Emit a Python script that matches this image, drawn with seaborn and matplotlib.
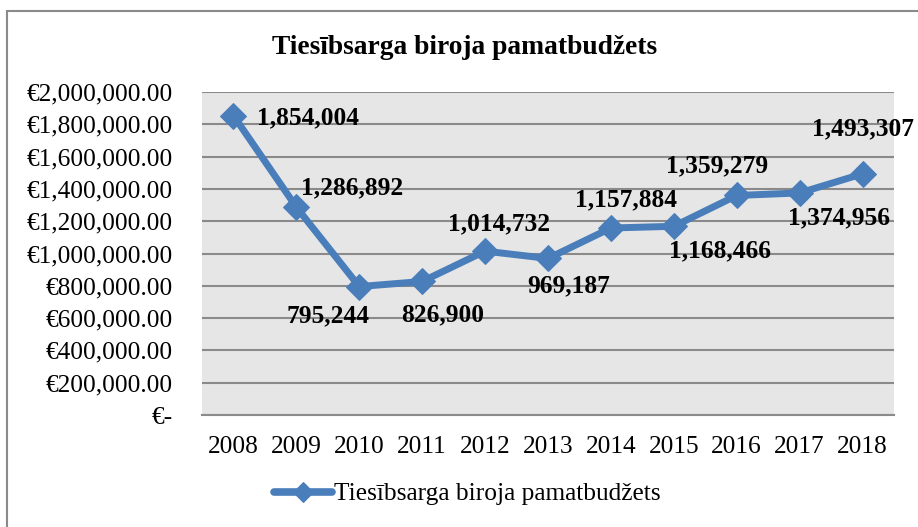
import matplotlib
matplotlib.use("Agg")
import matplotlib.pyplot as plt
from matplotlib.patches import Rectangle
from matplotlib.ticker import FuncFormatter, MultipleLocator
import seaborn as sns
import pandas as pd

# data
years = ["2008", "2009", "2010", "2011", "2012", "2013", "2014", "2015", "2016", "2017", "2018"]
budget = [1854004, 1286892, 795244, 826900, 1014732, 969187, 1157884, 1168466, 1359279, 1374956, 1493307]
series_name = "Tiesībsarga biroja pamatbudžets"

# where each data label sits relative to its point (pixels)
label_offsets = [(75, -2), (56, 19), (-31, -29), (20, -33), (14, 27), (21, -27),
                 (15, 28), (46, -25), (-20, 30), (39, -25), (0, 45)]

df = pd.DataFrame({"year": years, "value": budget})

sns.set_style("white")
plt.rcParams["font.family"] = ["Liberation Serif", "DejaVu Serif"]
plt.rcParams["text.color"] = "black"
plt.rcParams["xtick.color"] = "black"
plt.rcParams["ytick.color"] = "black"

fig = plt.figure(figsize=(9.18, 5.27), dpi=100)
ax = fig.add_axes([202 / 918, 1 - 415 / 527, (894 - 202) / 918, (415 - 92) / 527])

line_color = "#4a7ebb"
sns.lineplot(data=df, x="year", y="value", ax=ax, color=line_color, linewidth=5,
             marker="D", markersize=13, markeredgecolor=line_color, label=series_name,
             sort=False)

ax.set_facecolor("#e6e6e6")
ax.set_xlim(-0.5, len(years) - 0.5)
ax.set_ylim(0, 2000000)
ax.yaxis.set_major_locator(MultipleLocator(200000))
ax.yaxis.set_major_formatter(FuncFormatter(lambda v, p: "€-" if v == 0 else f"€{v:,.2f}"))
ax.grid(axis="y", color="#8a8a8a", linewidth=1.5)
ax.grid(axis="x", visible=False)
ax.set_axisbelow(True)
for side in ["top", "right", "left"]:
    ax.spines[side].set_visible(False)
ax.spines["bottom"].set_color("#8a8a8a")
ax.spines["bottom"].set_linewidth(1.5)
ax.tick_params(axis="y", length=0, pad=21, labelsize=18.3)
ax.tick_params(axis="x", length=0, pad=15, labelsize=18.3)
ax.set_xlabel("")
ax.set_ylabel("")

for i, (v, off) in enumerate(zip(budget, label_offsets)):
    ax.annotate(f"{v:,}", (i, v), xytext=off, textcoords="offset pixels",
                ha="center", va="center", fontsize=18.4, fontweight="bold",
                annotation_clip=False)

ax.legend_.remove()
handles, labels = ax.get_legend_handles_labels()
leg = fig.legend(handles, labels, loc="center left", bbox_to_anchor=(274 / 918, 1 - 494 / 527),
                 frameon=False, fontsize=18.3, handlelength=2.3, handletextpad=0.05,
                 borderpad=0, borderaxespad=0)
for h in leg.legend_handles:
    h.set_markersize(10)
    h.set_linewidth(5.5)

fig.text(465 / 918, 1 - 47 / 527, series_name, ha="center", va="center",
         fontsize=19.8, fontweight="bold")

# chart border
fig.patches.append(Rectangle((6.5 / 918, -0.1), 1.2, 1 - 10.5 / 527 + 0.1,
                             transform=fig.transFigure, fill=False,
                             edgecolor="#8a8a8a", linewidth=1.5))

fig.savefig("out.png", dpi=100, facecolor="white")
